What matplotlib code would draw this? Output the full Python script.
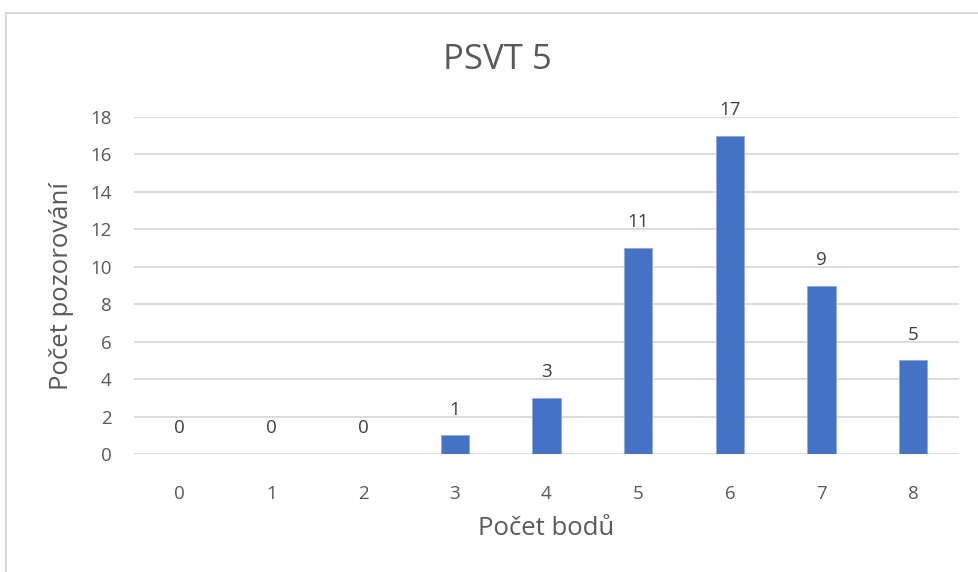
import matplotlib
matplotlib.use('Agg')
import matplotlib.pyplot as plt
from matplotlib.lines import Line2D

# data
points = [0, 1, 2, 3, 4, 5, 6, 7, 8]
counts = [0, 0, 0, 1, 3, 11, 17, 9, 5]
y_ticks = [0, 2, 4, 6, 8, 10, 12, 14, 16, 18]

title = 'PSVT 5'
x_label = 'Počet bodů'
y_label = 'Počet pozorování'

bar_color = '#4472C4'
text_color = '#595959'
grid_color = '#D9D9D9'

plt.rcParams['font.family'] = ['Open Sans', 'DejaVu Sans']

fig = plt.figure(figsize=(9.79, 5.72), dpi=100)
ax = fig.add_axes([134 / 979, 118 / 572, 825 / 979, 337 / 572])

bars = ax.bar(points, counts, width=0.31, color=bar_color,
              edgecolor='#8FAADC', linewidth=0.6, zorder=3)

for x, v in zip(points, counts):
    ax.annotate(str(v), (x, v), xytext=(0, 12), textcoords='offset points',
                ha='center', va='bottom', fontsize=13.5, color='#404040')

ax.set_xlim(-0.5, 8.5)
ax.set_ylim(0, 18)
ax.set_yticks(y_ticks)
ax.set_xticks(points)
ax.yaxis.grid(True, color=grid_color, linewidth=1.3, zorder=0)
ax.set_axisbelow(True)
for s in ax.spines.values():
    s.set_visible(False)
ax.tick_params(length=0, labelsize=13.5, colors=text_color)
ax.tick_params(axis='x', pad=22)
ax.tick_params(axis='y', pad=16)

ax.set_xlabel(x_label, fontsize=18.5, color=text_color, labelpad=10)
ax.set_ylabel(y_label, fontsize=18.5, color=text_color, labelpad=12)
fig.text(497 / 979, 1 - 60 / 572, title, ha='center', va='center',
         fontsize=25, color=text_color)

# chart frame (only top and left edges are visible in the picture)
fig.add_artist(Line2D([6.5 / 979, 6.5 / 979], [0, 1 - 12.5 / 572],
                      transform=fig.transFigure, color=grid_color, linewidth=1.5))
fig.add_artist(Line2D([6.5 / 979, 1], [1 - 12.5 / 572, 1 - 12.5 / 572],
                      transform=fig.transFigure, color=grid_color, linewidth=1.5))

fig.savefig('out.png', dpi=100, facecolor='white')
